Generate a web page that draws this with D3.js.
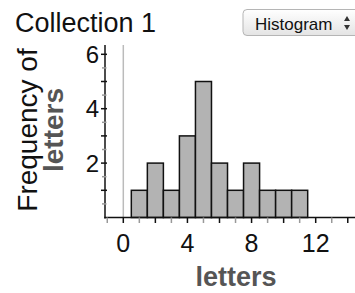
<!DOCTYPE html>
<html><head><meta charset="utf-8">
<script src="https://cdn.jsdelivr.net/npm/d3@7"></script>
<style>html,body{margin:0;padding:0;background:#fff;}svg{display:block;font-family:"Liberation Sans",Arial,sans-serif;}</style>
</head><body>
<svg id="chart" width="355" height="293"></svg>
<script>
// Data
const binCenters = [1, 2, 3, 4, 5, 6, 7, 8, 9, 10, 11];
const frequencies = [1, 2, 1, 3, 5, 2, 1, 2, 1, 1, 1];
const xTickLabels = [0, 4, 8, 12];
const yTickLabels = [2, 4, 6];
const binWidth = 1;

const svg = d3.select("#chart");
const x = d3.scaleLinear().domain([0, 12]).range([123.3, 315.7]);
const y = d3.scaleLinear().domain([0, 6]).range([217.5, 54.3]);
const axisLeftX = 105, axisRightX = 355, axisTopY = 45;

// Title
svg.append("text").attr("x", 15).attr("y", 32).attr("font-size", 27).attr("fill", "#111").text("Collection 1");

// Button
const defs = svg.append("defs");
const g = defs.append("linearGradient").attr("id", "btn").attr("x1", 0).attr("y1", 0).attr("x2", 0).attr("y2", 1);
g.append("stop").attr("offset", "0%").attr("stop-color", "#ffffff");
g.append("stop").attr("offset", "100%").attr("stop-color", "#e4e4e4");
svg.append("rect").attr("x", 243).attr("y", 9.5).attr("width", 118).attr("height", 26).attr("rx", 4)
  .attr("fill", "url(#btn)").attr("stroke", "#b5b5b5").attr("stroke-width", 1);
svg.append("text").attr("x", 255).attr("y", 29.5).attr("font-size", 17).attr("fill", "#111").text("Histogram");
svg.append("path").attr("d", "M344,21 L350,21 L347,16 Z").attr("fill", "#333");
svg.append("path").attr("d", "M344,25 L350,25 L347,30 Z").attr("fill", "#333");

// Gray line at x=0
svg.append("line").attr("x1", x(0)).attr("x2", x(0)).attr("y1", axisTopY).attr("y2", y(0))
  .attr("stroke", "#bbbbbb").attr("stroke-width", 1.5);

// Bars
svg.append("g").selectAll("rect").data(binCenters).join("rect")
  .attr("x", (d) => x(d - binWidth / 2))
  .attr("width", (d) => x(d + binWidth / 2) - x(d - binWidth / 2))
  .attr("y", (d, i) => y(frequencies[i]))
  .attr("height", (d, i) => y(0) - y(frequencies[i]))
  .attr("fill", "#b3b3b3").attr("stroke", "#111").attr("stroke-width", 1.5);

// Y axis
const yAxisG = svg.append("g");
yAxisG.append("line").attr("x1", axisLeftX).attr("x2", axisLeftX).attr("y1", axisTopY).attr("y2", y(0) + 1)
  .attr("stroke", "#111").attr("stroke-width", 1.5);
const yMinor = d3.range(0.5, 6.01, 0.5).filter(v => v % 1 !== 0);
const yMajor = d3.range(1, 6.01, 1);
yAxisG.selectAll(".ymin").data(yMinor).join("line")
  .attr("x1", axisLeftX - 3).attr("x2", axisLeftX + 1.5).attr("y1", d => y(d)).attr("y2", d => y(d))
  .attr("stroke", "#999").attr("stroke-width", 1.5);
yAxisG.selectAll(".ymaj").data(yMajor).join("line")
  .attr("x1", axisLeftX - 4).attr("x2", axisLeftX + 2).attr("y1", d => y(d)).attr("y2", d => y(d))
  .attr("stroke", "#111").attr("stroke-width", 1.5);
yAxisG.selectAll("text").data(yTickLabels).join("text")
  .attr("x", 99).attr("y", d => y(d) + 8.5).attr("text-anchor", "end").attr("font-size", 24)
  .attr("fill", "#111").text(d => d);

// X axis
const xAxisG = svg.append("g");
xAxisG.append("line").attr("x1", axisLeftX - 0.75).attr("x2", axisRightX).attr("y1", y(0)).attr("y2", y(0))
  .attr("stroke", "#111").attr("stroke-width", 1.5);
const xTicks = d3.range(-1, 15, 1);
xAxisG.selectAll(".xt").data(xTicks).join("line")
  .attr("x1", d => x(d)).attr("x2", d => x(d)).attr("y1", y(0)).attr("y2", y(0) + 5.5)
  .attr("stroke", d => (d % 2 === 0 ? "#111" : "#999")).attr("stroke-width", 1.5);
xAxisG.selectAll("text").data(xTickLabels).join("text")
  .attr("x", d => x(d)).attr("y", 251.5).attr("text-anchor", "middle").attr("font-size", 25)
  .attr("fill", "#111").text(d => d);

// Axis labels
svg.append("text").attr("x", 236).attr("y", 286).attr("text-anchor", "middle").attr("font-size", 27)
  .attr("font-weight", "bold").attr("fill", "#555").text("letters");
svg.append("text").attr("transform", "translate(37,130) rotate(-90)").attr("text-anchor", "middle")
  .attr("font-size", 28).attr("fill", "#111").text("Frequency of");
svg.append("text").attr("transform", "translate(63,130) rotate(-90)").attr("text-anchor", "middle")
  .attr("font-size", 28).attr("font-weight", "bold").attr("fill", "#555").text("letters");
</script>
</body></html>
